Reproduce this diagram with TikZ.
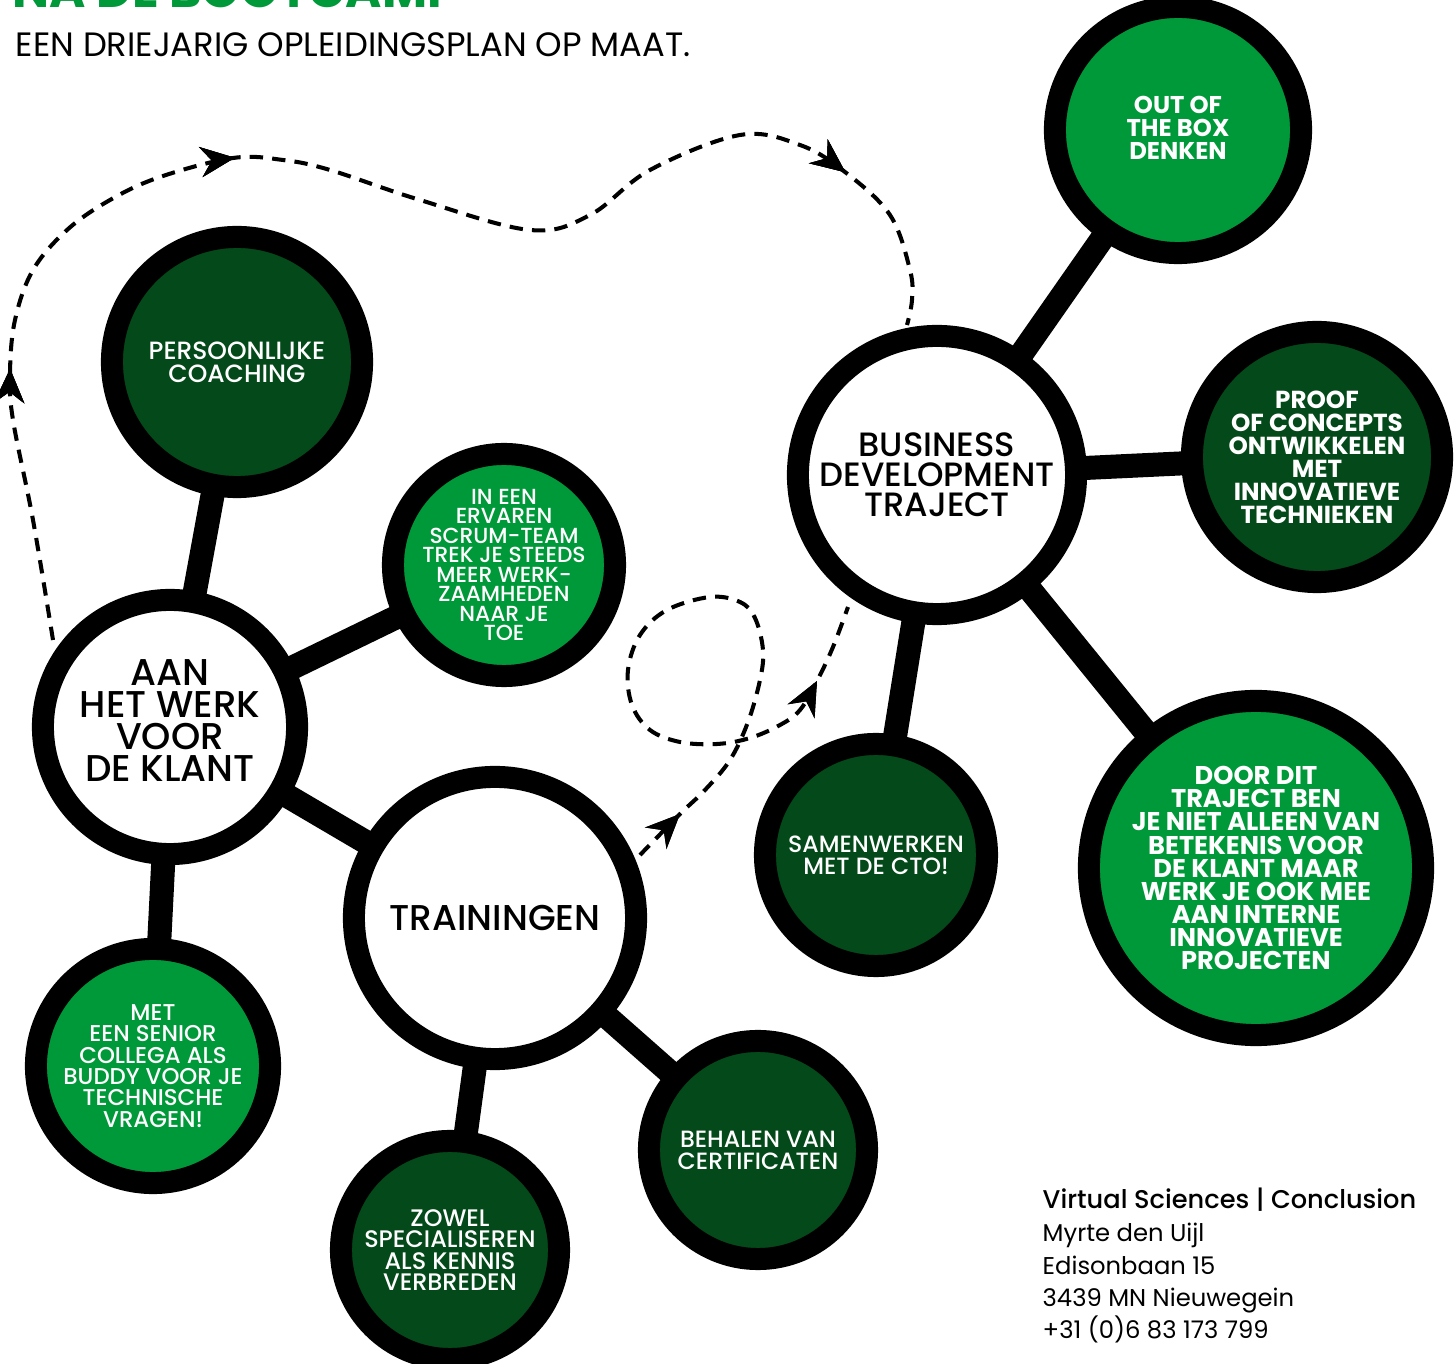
\documentclass[tikz,border=0pt]{standalone}
\usepackage{fontspec}
\setmainfont{Poppins}
\newfontfamily\medfont{Poppins Medium}
\usetikzlibrary{arrows.meta, decorations.markings, positioning}
\definecolor{brightgreen}{RGB}{0,153,58}
\definecolor{darkgreen}{RGB}{4,73,25}
\pgfdeclarelayer{bg}
\pgfsetlayers{bg,main}

\tikzset{
	bubble/.style={circle, draw=black, line width=2.2mm, minimum size=#1, inner sep=0pt},
	stem/.style={black, line width=2.4mm},
	whitetxt/.style={text=white, align=center, inner sep=0pt},
	blacktxt/.style={text=black, align=center, inner sep=0pt},
	route/.style={line width=1.15pt, dash pattern=on 3.8pt off 2.6pt},
	tip/.style={decoration={markings, mark=at position #1 with {\arrow{Stealth[length=3.4mm, width=3mm, inset=1.1mm]}}}, postaction=decorate}
}

\begin{document}
\begin{tikzpicture}[x=0.01cm, y=-0.01cm]
	\useasboundingbox (0,0) rectangle (1456,1364);
	
	% titel
	\node[anchor=base west, inner sep=0pt, text=brightgreen, font=\bfseries\fontsize{14}{14}\selectfont] (titel) at (12,8) {NA DE BOOTCAMP};
	\node[anchor=base west, inner sep=0pt, font=\fontsize{9.6}{9.6}\selectfont] (subtitel) at (15,57) {EEN DRIEJARIG OPLEIDINGSPLAN OP MAAT.};
	
	% bollen links
	\node[bubble=2.50cm, fill=darkgreen] (coaching) at (237,362) {};
	\node[bubble=2.54cm, fill=white] (klant) at (170,727) {};
	\node[bubble=2.22cm, fill=brightgreen] (scrum) at (504,565) {};
	\node[bubble=2.82cm, fill=white] (trainingen) at (495,918) {};
	\node[bubble=2.34cm, fill=brightgreen] (senior) at (153,1066) {};
	\node[bubble=2.18cm, fill=darkgreen] (zowel) at (450,1250) {};
	\node[bubble=2.18cm, fill=darkgreen] (behalen) at (758,1150) {};
	
	% bollen rechts
	\node[bubble=2.78cm, fill=white] (business) at (937,475) {};
	\node[bubble=2.46cm, fill=brightgreen] (outbox) at (1178,130) {};
	\node[bubble=2.50cm, fill=darkgreen] (proof) at (1317,457) {};
	\node[bubble=2.22cm, fill=darkgreen] (samen) at (876,855) {};
	\node[bubble=3.34cm, fill=brightgreen] (door) at (1256,868) {};
	
	\begin{pgfonlayer}{bg}
		\foreach \a/\b in {klant/coaching, klant/scrum, klant/trainingen, klant/senior, trainingen/zowel, trainingen/behalen, business/outbox, business/proof, business/samen, business/door}{
			\draw[stem] (\a.center) -- (\b.center);
		}
	\end{pgfonlayer}
	
	% teksten
	\node[whitetxt, font=\medfont\fontsize{7.1}{6.5}\selectfont] (coachingtxt) at (coaching) {PERSOONLIJKE\\COACHING};
	\node[blacktxt, font=\medfont\fontsize{10.6}{9.1}\selectfont] (klanttxt) at (170,721) {AAN\\HET WERK\\VOOR\\DE KLANT};
	\node[whitetxt, font=\medfont\fontsize{6.2}{5.55}\selectfont] (scrumtxt) at (scrum) {IN EEN\\ERVAREN\\SCRUM-TEAM\\TREK JE STEEDS\\MEER WERK-\\ZAAMHEDEN\\NAAR JE\\TOE};
	\node[blacktxt, font=\medfont\fontsize{10.2}{10}\selectfont] (trainingentxt) at (trainingen) {TRAININGEN};
	\node[whitetxt, font=\medfont\fontsize{6.5}{6.05}\selectfont] (seniortxt) at (senior) {MET\\EEN SENIOR\\COLLEGA ALS\\BUDDY VOOR JE\\TECHNISCHE\\VRAGEN!};
	\node[whitetxt, font=\medfont\fontsize{6.8}{6.05}\selectfont] (zoweltxt) at (zowel) {ZOWEL\\SPECIALISEREN\\ALS KENNIS\\VERBREDEN};
	\node[whitetxt, font=\medfont\fontsize{6.7}{6.3}\selectfont] (behalentxt) at (behalen) {BEHALEN VAN\\CERTIFICATEN};
	\node[blacktxt, font=\medfont\fontsize{9.6}{8.5}\selectfont] (businesstxt) at (business) {BUSINESS\\DEVELOPMENT\\TRAJECT};
	\node[whitetxt, font=\bfseries\fontsize{6.9}{6.55}\selectfont] (outboxtxt) at (1178,128) {OUT OF\\THE BOX\\DENKEN};
	\node[whitetxt, font=\bfseries\fontsize{7.0}{6.55}\selectfont] (prooftxt) at (proof) {PROOF\\OF CONCEPTS\\ONTWIKKELEN\\MET\\INNOVATIEVE\\TECHNIEKEN};
	\node[whitetxt, font=\medfont\fontsize{6.7}{6.3}\selectfont] (samentxt) at (samen) {SAMENWERKEN\\MET DE CTO!};
	\node[whitetxt, font=\bfseries\fontsize{7.3}{6.55}\selectfont] (doortxt) at (door) {DOOR DIT\\TRAJECT BEN\\JE NIET ALLEEN VAN\\BETEKENIS VOOR\\DE KLANT MAAR\\WERK JE OOK MEE\\AAN INTERNE\\INNOVATIEVE\\PROJECTEN};
	
	% stippelroutes
	\draw[route, tip=0.19, tip=0.425, tip=0.878] plot[smooth, tension=0.6] coordinates {(53,640) (33,520) (13,420) (10,373) (15,320) (33,270) (67,230) (110,200) (160,177) (233,158) (283,160) (330,170) (420,200) (530,230) (590,215) (650,170) (740,135) (800,145) (845,172) (890,215) (910,270) (912,300) (907,325)};
	\draw[route, tip=0.072, tip=0.899] plot[smooth, tension=0.6] coordinates {(640,855) (680,814) (705,790) (730,760) (748,722) (760,680) (763,650) (755,618) (740,602) (710,597) (667,610) (640,635) (628,670) (632,705) (650,730) (680,742) (717,744) (750,738) (780,725) (800,710) (817,681) (833,647) (848,607)};
	
	% adres
	\node[anchor=base west, inner sep=0pt, font=\medfont\fontsize{7.3}{7.3}\selectfont] (adres1) at (1042,1209) {Virtual Sciences | Conclusion};
	\node[anchor=base west, inner sep=0pt, font=\fontsize{6.9}{6.9}\selectfont] (adres2) at (1042,1242) {Myrte den Uijl};
	\node[anchor=base west, inner sep=0pt, font=\fontsize{6.9}{6.9}\selectfont] (adres3) at (1042,1275) {Edisonbaan 15};
	\node[anchor=base west, inner sep=0pt, font=\fontsize{6.9}{6.9}\selectfont] (adres4) at (1042,1307) {3439 MN Nieuwegein};
	\node[anchor=base west, inner sep=0pt, font=\fontsize{6.9}{6.9}\selectfont] (adres5) at (1042,1339) {+31 (0)6 83 173 799};
\end{tikzpicture}
\end{document}
